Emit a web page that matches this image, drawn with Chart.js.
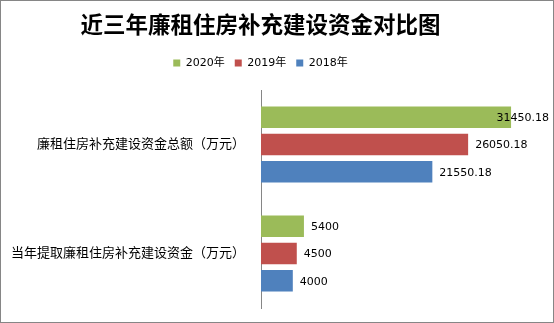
<!DOCTYPE html>
<html>
<head>
<meta charset="utf-8">
<script src="https://cdn.jsdelivr.net/npm/chart.js@4/dist/chart.umd.min.js"></script>
<style>
  html, body { margin: 0; padding: 0; background: #fff; }
  #wrap { width: 554px; height: 323px; position: relative; }
</style>
</head>
<body>
<div id="wrap"><canvas id="chart"></canvas></div>
<script>
// 近三年廉租住房补充建设资金对比图
const categories = ['廉租住房补充建设资金总额（万元）', '当年提取廉租住房补充建设资金（万元）'];
const seriesNames = ['2020年', '2019年', '2018年'];
const values2020 = [31450.18, 5400];
const values2019 = [26050.18, 4500];
const values2018 = [21550.18, 4000];
const seriesColors = ['#9BBB59', '#C0504D', '#4F81BD'];

const cjkFont = '"DejaVu Sans", "Noto Sans CJK SC", sans-serif';

// frame around the whole chart
const borderPlugin = {
    id: 'frame',
    afterDraw(chart) {
        const ctx = chart.ctx;
        ctx.save();
        ctx.strokeStyle = '#868686';
        ctx.lineWidth = 1;
        ctx.strokeRect(0.5, 0.5, chart.width - 1, chart.height - 1);
        ctx.restore();
    }
};

// extra room under the legend
const legendGap = {
    id: 'legendGap',
    afterInit(chart) {
        const fit = chart.legend.fit;
        chart.legend.fit = function() {
            fit.call(this);
            this.height += 11.5;
        };
    }
};

// value labels at the end of each bar
const valueLabels = {
    id: 'valueLabels',
    afterDatasetsDraw(chart) {
        const ctx = chart.ctx;
        ctx.save();
        ctx.font = '11px ' + cjkFont;
        ctx.fillStyle = '#000';
        ctx.textAlign = 'left';
        ctx.textBaseline = 'middle';
        chart.data.datasets.forEach((ds, i) => {
            const meta = chart.getDatasetMeta(i);
            meta.data.forEach((bar, j) => {
                const text = String(ds.data[j]);
                const w = ctx.measureText(text).width;
                let x = bar.x + 7;
                if (x + w > chart.width - 5) x = chart.width - 5 - w;
                ctx.fillText(text, x, bar.y + 1);
            });
        });
        ctx.restore();
    }
};

new Chart(document.getElementById('chart'), {
    type: 'bar',
    data: {
        labels: categories,
        datasets: [
            { label: seriesNames[0], data: values2020, backgroundColor: seriesColors[0] },
            { label: seriesNames[1], data: values2019, backgroundColor: seriesColors[1] },
            { label: seriesNames[2], data: values2018, backgroundColor: seriesColors[2] }
        ]
    },
    options: {
        indexAxis: 'y',
        responsive: true,
        maintainAspectRatio: false,
        animation: false,
        categoryPercentage: 0.75,
        barPercentage: 0.79,
        layout: { padding: { left: 0, right: 33, top: 0, bottom: 15 } },
        plugins: {
            tooltip: { enabled: false },
            title: {
                display: true,
                text: '近三年廉租住房补充建设资金对比图',
                color: '#000',
                font: { family: '"Noto Sans CJK SC", sans-serif', size: 22.5, weight: 'bold' },
                padding: { top: 11, bottom: 9.5 }
            },
            legend: {
                position: 'top',
                labels: {
                    boxWidth: 7,
                    boxHeight: 7,
                    padding: 10,
                    color: '#000',
                    font: { family: cjkFont, size: 11 }
                }
            }
        },
        scales: {
            x: {
                display: false,
                min: 0,
                max: 32700
            },
            y: {
                grid: { display: false, drawTicks: false },
                border: { display: true, color: '#868686', width: 1 },
                ticks: {
                    color: '#000',
                    padding: 16,
                    font: { family: cjkFont, size: 13 }
                },
                afterFit(scale) {
                    scale.width = 261;
                    scale.paddingTop = 0;
                    scale.paddingBottom = 0;
                }
            }
        }
    },
    plugins: [borderPlugin, legendGap, valueLabels]
});
</script>
</body>
</html>
